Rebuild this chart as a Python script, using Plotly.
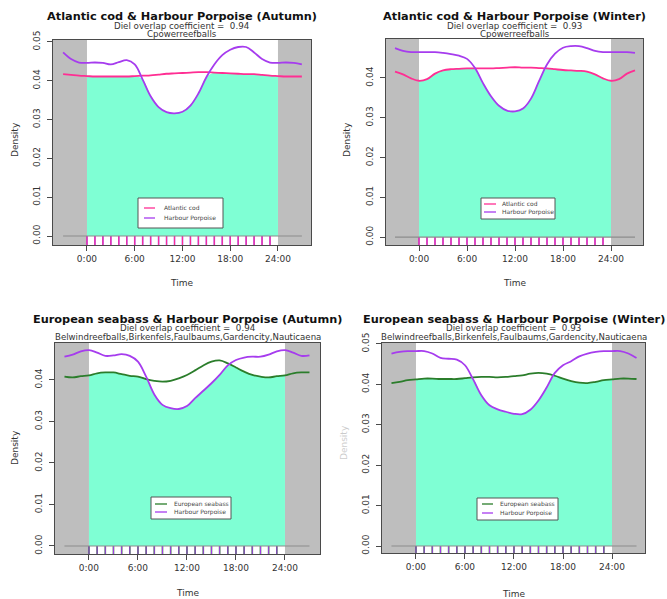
import plotly.graph_objects as go

# ---------------------------------------------------------------------------
# Hourly activity densities (kernel density estimates, hour 0..23)
# ---------------------------------------------------------------------------
hours = list(range(24))

cod_autumn = [0.0412, 0.0411, 0.0411, 0.0411, 0.0411, 0.0411, 0.0412, 0.0413,
              0.0414, 0.0416, 0.0418, 0.0419, 0.0420, 0.0421, 0.0422, 0.0422,
              0.0421, 0.0420, 0.0419, 0.0418, 0.0417, 0.0417, 0.0415, 0.0413]
porpoise_cod_autumn = [0.0446, 0.0447, 0.0446, 0.0442, 0.0448, 0.0453, 0.0442, 0.0403,
                       0.0360, 0.0332, 0.0319, 0.0316, 0.0320, 0.0336, 0.0367, 0.0409,
                       0.0442, 0.0466, 0.0480, 0.0487, 0.0487, 0.0473, 0.0456, 0.0447]

cod_winter = [0.0393, 0.0397, 0.0411, 0.0419, 0.0422, 0.0423, 0.0424, 0.0424,
              0.0424, 0.0424, 0.0425, 0.0426, 0.0427, 0.0426, 0.0426, 0.0425,
              0.0424, 0.0422, 0.0420, 0.0419, 0.0418, 0.0416, 0.0409, 0.0399]
porpoise_cod_winter = [0.0465, 0.0465, 0.0465, 0.0463, 0.0460, 0.0456, 0.0448, 0.0425,
                       0.0387, 0.0354, 0.0330, 0.0318, 0.0316, 0.0323, 0.0348, 0.0392,
                       0.0434, 0.0461, 0.0476, 0.0480, 0.0480, 0.0475, 0.0468, 0.0465]

seabass_autumn = [0.0411, 0.0416, 0.0418, 0.0418, 0.0414, 0.0410, 0.0408, 0.0402,
                  0.0398, 0.0396, 0.0398, 0.0404, 0.0412, 0.0423, 0.0435, 0.0444,
                  0.0447, 0.0440, 0.0430, 0.0420, 0.0412, 0.0408, 0.0406, 0.0409]
porpoise_seabass_autumn = [0.0472, 0.0466, 0.0458, 0.0459, 0.0462, 0.0458, 0.0444, 0.0408,
                           0.0365, 0.0340, 0.0332, 0.0330, 0.0337, 0.0356, 0.0374, 0.0392,
                           0.0412, 0.0435, 0.0448, 0.0454, 0.0456, 0.0456, 0.0461, 0.0469]

seabass_winter = [0.0412, 0.0414, 0.0414, 0.0413, 0.0413, 0.0413, 0.0415, 0.0417,
                  0.0418, 0.0418, 0.0417, 0.0418, 0.0420, 0.0422, 0.0426, 0.0428,
                  0.0426, 0.0421, 0.0414, 0.0408, 0.0404, 0.0403, 0.0406, 0.0410]
porpoise_seabass_winter = [0.0482, 0.0482, 0.0476, 0.0465, 0.0463, 0.0461, 0.0447, 0.0412,
                           0.0373, 0.0348, 0.0338, 0.0332, 0.0327, 0.0326, 0.0337, 0.0360,
                           0.0392, 0.0428, 0.0447, 0.0457, 0.0469, 0.0476, 0.0480, 0.0482]

# hours with detections (rug marks)
rug_hours = list(range(24))

overlap_coefficients = [0.94, 0.93, 0.94, 0.93]
species_names = ["Atlantic cod", "Atlantic cod", "European seabass", "European seabass"]
seasons = ["Autumn", "Winter", "Autumn", "Winter"]
sites = ["Cpowerreefballs", "Cpowerreefballs",
         "Belwindreefballs,Birkenfels,Faulbaums,Gardencity,Nauticaena",
         "Belwindreefballs,Birkenfels,Faulbaums,Gardencity,Nauticaena"]
species_series = [cod_autumn, cod_winter, seabass_autumn, seabass_winter]
porpoise_series = [porpoise_cod_autumn, porpoise_cod_winter,
                   porpoise_seabass_autumn, porpoise_seabass_winter]

time_ticks = [0, 6, 12, 18, 24]
time_labels = ["0:00", "6:00", "12:00", "18:00", "24:00"]
density_ticks = [0.0, 0.01, 0.02, 0.03, 0.04, 0.05]

# ---------------------------------------------------------------------------
# Styling / geometry (pixels on a 667 x 599 canvas)
# ---------------------------------------------------------------------------
W, H = 667, 599
FONT = "DejaVu Sans"
COD = "#FF2E93"
SEABASS = "#2B7D2B"
PORPOISE = "#A63CEE"
OVERLAP = "#7FFFD4"
NIGHT = "#BEBEBE"
FRAME = "#4A4A4A"

species_colors = [COD, COD, SEABASS, SEABASS]

panels = [
    dict(box=(53, 40, 311, 245), xr=(-4.27, 28.15), yr=(-0.00232, 0.0505),
         ty=(16, 26, 34), time_y=283, dens=(15, 140, 1.0),
         leg=(138, 198, 223, 228), rows=(208, 218), lline=(144, 155), ltext=162),
    dict(box=(386, 39, 643, 245), xr=(-4.125, 28.0), yr=(-0.0020, 0.0498),
         ty=(16, 26, 34), time_y=283, dens=(347, 140, 1.0),
         leg=(481, 198, 555, 219), rows=(204, 212), lline=(484, 496), ltext=500),
    dict(box=(55, 343, 320, 554), xr=(-4.16, 28.29), yr=(-0.00193, 0.0489),
         ty=(319, 328, 337), time_y=593, dens=(15, 448, 1.0),
         leg=(151, 497, 231, 519), rows=(504, 512), lline=(155, 167), ltext=172),
    dict(box=(382, 343, 645, 553), xr=(-4.16, 28.04), yr=(-0.00173, 0.0502),
         ty=(319, 328, 337), time_y=594, dens=(344, 443, 0.25),
         leg=(477, 498, 558, 520), rows=(504, 513), lline=(482, 493), ltext=498),
]


def fx(px):
    return px / W


def fy(py):
    return 1 - py / H


def wrap(values):
    """Extend a 24-hour circular density over -3..27 h."""
    xs = list(range(-3, 28))
    return xs, [values[h % 24] for h in xs]


fig = go.Figure()
shapes = []
annotations = []
layout_axes = {}

for i, p in enumerate(panels):
    n = "" if i == 0 else str(i + 1)
    xref, yref = "x" + n, "y" + n
    l, t, r, b = p["box"]
    sp = species_series[i]
    pp = porpoise_series[i]
    scol = species_colors[i]

    # overlap area: minimum of both densities over the day
    overlap = [min(sp[h % 24], pp[h % 24]) for h in range(25)]
    fig.add_trace(go.Scatter(x=list(range(25)), y=overlap, mode="lines",
                             line=dict(width=0, shape="spline", color=OVERLAP),
                             fill="tozeroy", fillcolor=OVERLAP,
                             hoverinfo="skip", showlegend=False,
                             xaxis=xref, yaxis=yref))

    # rug marks below the zero line
    for hrs, col, w in ((rug_hours, PORPOISE if i < 2 else SEABASS, 1.6),
                        (rug_hours, scol if i < 2 else PORPOISE, 1.0)):
        rx, ry = [], []
        for h in hrs:
            rx += [h, h, None]
            ry += [0, p["yr"][0], None]
        fig.add_trace(go.Scatter(x=rx, y=ry, mode="lines",
                                 line=dict(color=col, width=w),
                                 hoverinfo="skip", showlegend=False,
                                 xaxis=xref, yaxis=yref))

    # density curves
    xs, ys = wrap(sp)
    fig.add_trace(go.Scatter(x=xs, y=ys, mode="lines", name=species_names[i],
                             line=dict(color=scol, width=1.8, shape="spline"),
                             showlegend=False, xaxis=xref, yaxis=yref))
    xs, ys = wrap(pp)
    fig.add_trace(go.Scatter(x=xs, y=ys, mode="lines", name="Harbour Porpoise",
                             line=dict(color=PORPOISE, width=1.8, shape="spline"),
                             showlegend=False, xaxis=xref, yaxis=yref))

    # night-time (outside 0-24 h) shading
    for x0, x1 in ((p["xr"][0], 0), (24, p["xr"][1])):
        shapes.append(dict(type="rect", xref=xref, yref=yref + " domain",
                           x0=x0, x1=x1, y0=0, y1=1, fillcolor=NIGHT,
                           line=dict(width=0), layer="below"))
    # zero reference line
    shapes.append(dict(type="line", xref=xref, yref=yref, x0=-3, x1=27, y0=0, y1=0,
                       line=dict(color="#8C8C8C", width=1.2), layer="above"))

    axis_common = dict(showgrid=False, zeroline=False, showline=True, mirror=True,
                       linecolor=FRAME, linewidth=1.3, ticks="outside", ticklen=5,
                       tickcolor=FRAME, tickwidth=1, automargin=False,
                       tickfont=dict(family=FONT, size=9, color="#333333"))
    layout_axes["xaxis" + n] = dict(axis_common, domain=[fx(l), fx(r)],
                                    range=list(p["xr"]), anchor=yref,
                                    tickvals=time_ticks, ticktext=time_labels)
    layout_axes["yaxis" + n] = dict(axis_common, domain=[fy(b), fy(t)],
                                    range=list(p["yr"]), anchor=xref,
                                    tickvals=density_ticks, tickformat=".2f",
                                    tickangle=-90, ticklabelstandoff=3)

    # titles
    cx = fx((l + r) / 2)
    title = f"<b>{species_names[i]} & Harbour Porpoise ({seasons[i]})</b>"
    annotations.append(dict(text=title, x=cx, y=fy(p["ty"][0]), xref="paper",
                            yref="paper", showarrow=False, xanchor="center",
                            yanchor="middle",
                            font=dict(family=FONT, size=11.3, color="#111111")))
    annotations.append(dict(text=f"Diel overlap coefficient = \u00a0{overlap_coefficients[i]:.2f}",
                            x=cx, y=fy(p["ty"][1]), xref="paper", yref="paper",
                            showarrow=False, xanchor="center", yanchor="middle",
                            font=dict(family=FONT, size=8.7, color="#333333")))
    annotations.append(dict(text=sites[i], x=cx, y=fy(p["ty"][2]), xref="paper",
                            yref="paper", showarrow=False, xanchor="center",
                            yanchor="middle",
                            font=dict(family=FONT, size=8.6, color="#333333")))
    # axis titles
    annotations.append(dict(text="Time", x=cx, y=fy(p["time_y"]), xref="paper",
                            yref="paper", showarrow=False, xanchor="center",
                            yanchor="middle",
                            font=dict(family=FONT, size=9, color="#333333")))
    dx, dy, dop = p["dens"]
    annotations.append(dict(text="Density", x=fx(dx), y=fy(dy), xref="paper",
                            yref="paper", showarrow=False, xanchor="center",
                            yanchor="middle", textangle=-90, opacity=dop,
                            font=dict(family=FONT, size=9, color="#333333")))

    # legend box
    ll, lt, lr, lb = p["leg"]
    shapes.append(dict(type="rect", xref="paper", yref="paper",
                       x0=fx(ll), x1=fx(lr), y0=fy(lb), y1=fy(lt),
                       fillcolor="white", line=dict(color="#555555", width=1),
                       layer="above"))
    for row_y, label, col in zip(p["rows"], (species_names[i], "Harbour Porpoise"),
                                 (scol, PORPOISE)):
        shapes.append(dict(type="line", xref="paper", yref="paper",
                           x0=fx(p["lline"][0]), x1=fx(p["lline"][1]),
                           y0=fy(row_y), y1=fy(row_y),
                           line=dict(color=col, width=1.3), layer="above"))
        annotations.append(dict(text=label, x=fx(p["ltext"]), y=fy(row_y),
                                xref="paper", yref="paper", showarrow=False,
                                xanchor="left", yanchor="middle",
                                font=dict(family=FONT, size=6, color="#444444")))

fig.update_layout(
    width=W, height=H,
    margin=dict(l=0, r=0, t=0, b=0, autoexpand=False),
    paper_bgcolor="white", plot_bgcolor="white",
    showlegend=False,
    shapes=shapes, annotations=annotations,
    **layout_axes,
)

fig.write_html("out.html")
